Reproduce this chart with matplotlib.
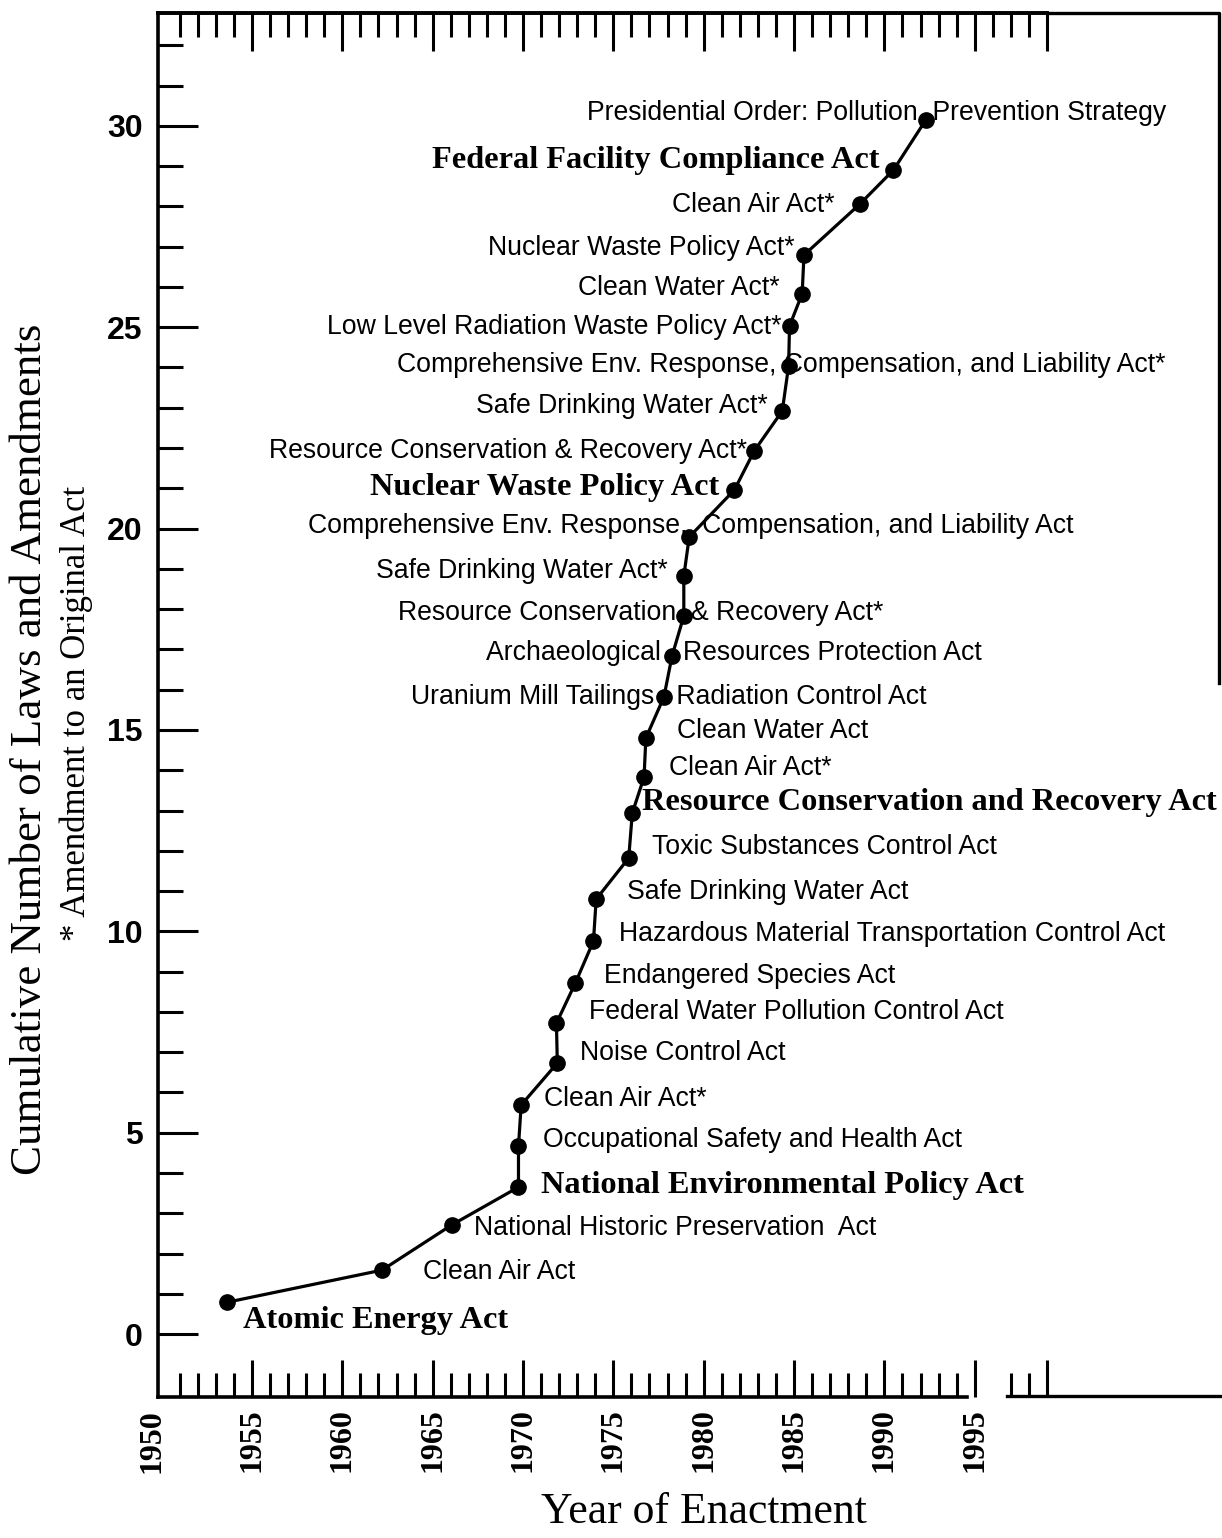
import numpy as np
import matplotlib
matplotlib.use("Agg")
import matplotlib.pyplot as plt
from matplotlib.lines import Line2D

# data: year of enactment and cumulative count
years = [1953.6, 1962.2, 1966.05, 1969.75, 1969.75, 1969.9, 1971.9, 1971.85,
         1972.9, 1973.9, 1974.05, 1975.85, 1976.05, 1976.7, 1976.8, 1977.8,
         1978.25, 1978.9, 1978.9, 1979.2, 1981.7, 1982.8, 1984.35, 1984.7,
         1984.75, 1985.45, 1985.55, 1988.65, 1990.5, 1992.3]
counts = [0.79, 1.59, 2.71, 3.65, 4.67, 5.69, 6.73, 7.72, 8.72, 9.76, 10.80,
          11.82, 12.94, 13.83, 14.80, 15.82, 16.84, 17.83, 18.82, 19.79, 20.96,
          21.93, 22.92, 24.04, 25.03, 25.83, 26.79, 28.06, 28.90, 30.15]
acts = ["Atomic Energy Act",
        "Clean Air Act",
        "National Historic Preservation  Act",
        "National Environmental Policy Act",
        "Occupational Safety and Health Act",
        "Clean Air Act*",
        "Noise Control Act",
        "Federal Water Pollution Control Act",
        "Endangered Species Act",
        "Hazardous Material Transportation Control Act",
        "Safe Drinking Water Act",
        "Toxic Substances Control Act",
        "Resource Conservation and Recovery Act",
        "Clean Air Act*",
        "Clean Water Act",
        "Uranium Mill Tailings   Radiation Control Act",
        "Archaeological   Resources Protection Act",
        "Resource Conservation  & Recovery Act*",
        "Safe Drinking Water Act*",
        "Comprehensive Env. Response,  Compensation, and Liability Act",
        "Nuclear Waste Policy Act",
        "Resource Conservation & Recovery Act*",
        "Safe Drinking Water Act*",
        "Comprehensive Env. Response, Compensation, and Liability Act*",
        "Low Level Radiation Waste Policy Act*",
        "Clean Water Act*",
        "Nuclear Waste Policy Act*",
        "Clean Air Act*",
        "Federal Facility Compliance Act",
        "Presidential Order: Pollution  Prevention Strategy"]
major_acts = ["Atomic Energy Act", "National Environmental Policy Act",
              "Resource Conservation and Recovery Act",
              "Nuclear Waste Policy Act", "Federal Facility Compliance Act"]

# where each label sits (anchor year, anchor count, alignment)
lab_x = [1954.50, 1964.45, 1967.27, 1970.97, 1971.08, 1971.19, 1973.13, 1973.68,
         1974.46, 1975.34, 1975.78, 1977.16, 1976.61, 1978.10, 1978.55, 1963.79,
         1967.93, 1963.07, 1977.99, 1958.09, 1980.87, 1982.42, 1983.52, 1963.01,
         1984.30, 1984.18, 1985.01, 1987.22, 1989.71, 1973.52]
lab_y = [0.35, 1.54, 2.63, 3.68, 4.82, 5.84, 6.98, 8.00, 8.89, 9.93, 10.98,
         12.09, 13.19, 14.06, 14.97, 15.82, 16.91, 17.90, 18.95, 20.06, 21.03,
         21.93, 23.04, 24.06, 25.01, 25.97, 26.97, 28.04, 29.13, 30.32]
lab_ha = ["left"] * 18 + ["right", "left", "right", "right", "right", "left",
                          "right", "right", "right", "right", "right", "left"]

W, H = 1222, 1538
fig = plt.figure(figsize=(W / 100, H / 100), dpi=100)

def fx(px):
    return px / W

def fy(py):
    return 1 - py / H

ax = fig.add_axes([fx(158), fy(1397), fx(1047) - fx(158), fy(13) - fy(1397)])
ax.set_xlim(1949.8, 1998.94)
ax.set_ylim(-1.56, 32.8)

ax.plot(years, counts, color="black", lw=2.3, marker="o", ms=11, zorder=3)

for i, name in enumerate(acts):
    if name in major_acts and acts.index(name) == i:
        ax.text(lab_x[i], lab_y[i], name, ha=lab_ha[i], va="center",
                fontsize=23.3, fontweight="bold", family="Liberation Serif")
    else:
        ax.text(lab_x[i], lab_y[i], name, ha=lab_ha[i], va="center",
                fontsize=19.2, family="Liberation Sans")

# spines
for s in ["right", "bottom"]:
    ax.spines[s].set_visible(False)
for s in ["left", "top"]:
    ax.spines[s].set_linewidth(2.6)
ax.plot([1949.8, 1994.6], [-1.56, -1.56], color="black", lw=2.6, clip_on=False)

# bottom ticks (broken after 1995)
yr_major = [1955, 1960, 1965, 1970, 1975, 1980, 1985, 1990, 1995, 1999]
yr_minor = [y for y in range(1951, 1995) if y % 5] + [1997, 1998]
ax.set_xticks(yr_major)
ax.set_xticklabels(["1955", "1960", "1965", "1970", "1975", "1980", "1985",
                    "1990", "1995", ""], rotation=90, fontsize=23,
                   fontweight="bold", family="Liberation Serif")
ax.set_xticks(yr_minor, minor=True)
ax.tick_params(axis="x", which="both", direction="in", width=2.2, pad=8)
ax.tick_params(axis="x", which="major", length=27)
ax.tick_params(axis="x", which="minor", length=17)
fig.text(fx(152), fy(1409), "1950", rotation=90, ha="center", va="top",
         fontsize=23, fontweight="bold", family="Liberation Serif")

# top ticks, every year
top = ax.secondary_xaxis("top")
top.set_xticks([1955, 1960, 1965, 1970, 1975, 1980, 1985, 1990, 1995, 1999])
top.set_xticks([y for y in range(1951, 1999) if y % 5], minor=True)
top.set_xticklabels([])
top.spines["top"].set_linewidth(2.6)
top.tick_params(axis="x", which="both", direction="in", width=2.2)
top.tick_params(axis="x", which="major", length=27)
top.tick_params(axis="x", which="minor", length=17)

ax.set_yticks([0, 5, 10, 15, 20, 25, 30])
ax.set_yticklabels(["0", "5", "10", "15", "20", "25", "30"], fontsize=23,
                   fontweight="bold", family="Liberation Sans")
ax.set_yticks([v for v in range(1, 33) if v % 5], minor=True)
ax.tick_params(axis="y", which="both", direction="in", width=2.2, pad=11)
ax.tick_params(axis="y", which="major", length=29)
ax.tick_params(axis="y", which="minor", length=18)

# frame pieces outside the axes
fig.add_artist(Line2D([fx(1047), fx(1219), fx(1219)], [fy(13), fy(13), fy(683)],
                      color="black", lw=2.4))
fig.add_artist(Line2D([fx(1007), fx(1222)], [fy(1396), fy(1396)],
                      color="black", lw=2.4))

fig.text(fx(30), fy(749), "Cumulative Number of Laws and Amendments",
         rotation=90, ha="center", va="center", fontsize=32.4,
         family="Liberation Serif")
fig.text(fx(76), fy(713), "* Amendment to an Original Act", rotation=90,
         ha="center", va="center", fontsize=25, family="Liberation Serif")
fig.text(fx(704), fy(1512), "Year of Enactment", ha="center", va="center",
         fontsize=31.5, family="Liberation Serif")

fig.savefig("out.png", dpi=100)
